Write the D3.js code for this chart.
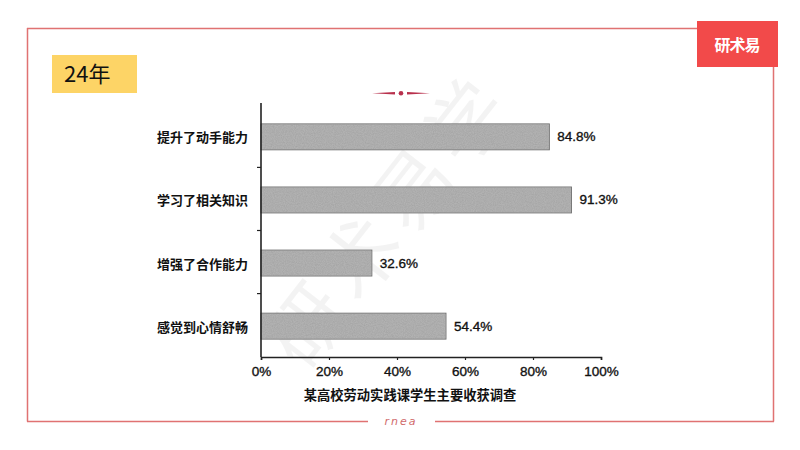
<!DOCTYPE html>
<html><head><meta charset="utf-8">
<script src="https://cdn.jsdelivr.net/npm/d3@7"></script>
<style>html,body{margin:0;padding:0;background:#fff;}svg{display:block;}</style>
</head><body>
<script>
const categories = ["提升了动手能力", "学习了相关知识", "增强了合作能力", "感觉到心情舒畅"];
const values = [84.8, 91.3, 32.6, 54.4];
const valueLabels = ["84.8%", "91.3%", "32.6%", "54.4%"];
const xTicks = [0, 20, 40, 60, 80, 100];
const xTickLabels = ["0%", "20%", "40%", "60%", "80%", "100%"];
const axisTitle = "某高校劳动实践课学生主要收获调查";
const yearLabel = "24年";
const logoText = "研术易";
const footerText = "rnea";

const W = 800, H = 450;
const svg = d3.select("body").append("svg").attr("width", W).attr("height", H);
svg.append("rect").attr("width", W).attr("height", H).attr("fill", "#fff");

const CJK = "'Noto Sans CJK SC','Noto Sans',sans-serif";
const LAT = "'Liberation Sans',Arial,sans-serif";

// watermark
svg.append("text").attr("transform", "translate(395,225) rotate(-52)")
  .attr("text-anchor", "middle").attr("dominant-baseline", "middle")
  .attr("font-family", "'Noto Sans CJK SC',serif").attr("font-size", 78)
  .attr("fill", "#000").attr("opacity", 0.045).attr("letter-spacing", 8)
  .text("研术易学");

// outer frame
const red = "#e07272";
svg.append("line").attr("x1", 27).attr("x2", 774).attr("y1", 28.5).attr("y2", 28.5).attr("stroke", red).attr("stroke-width", 1.5);
svg.append("line").attr("x1", 27.5).attr("x2", 27.5).attr("y1", 28).attr("y2", 421.5).attr("stroke", red).attr("stroke-width", 1.5);
svg.append("line").attr("x1", 773.5).attr("x2", 773.5).attr("y1", 28).attr("y2", 421.5).attr("stroke", red).attr("stroke-width", 1.5);
svg.append("line").attr("x1", 27).attr("x2", 368).attr("y1", 421.5).attr("y2", 421.5).attr("stroke", red).attr("stroke-width", 1.5);
svg.append("line").attr("x1", 435).attr("x2", 774).attr("y1", 421.5).attr("y2", 421.5).attr("stroke", red).attr("stroke-width", 1.5);
svg.append("text").attr("x", 401).attr("y", 425).attr("text-anchor", "middle")
  .attr("font-family", "'DejaVu Sans',sans-serif").attr("font-style", "italic").attr("font-size", 11)
  .attr("letter-spacing", 2).attr("fill", "#d06a6a").text(footerText);

// logo
svg.append("rect").attr("x", 697).attr("y", 21).attr("width", 81).attr("height", 46).attr("fill", "#f24a4a");
svg.append("text").attr("x", 737).attr("y", 51).attr("text-anchor", "middle")
  .attr("font-family", CJK).attr("font-weight", "bold").attr("font-size", 16)
  .attr("letter-spacing", -1).attr("fill", "#fff").text(logoText);

// year label
svg.append("rect").attr("x", 52).attr("y", 55).attr("width", 85).attr("height", 38).attr("fill", "#fdd466");
svg.append("text").attr("x", 64).attr("y", 82).attr("font-family", CJK).attr("font-size", 22)
  .attr("fill", "#111").text(yearLabel);

// decorative mark
const deco = svg.append("g").attr("fill", "#b8304c");
deco.append("path").attr("d", "M372,93.3 L395,92 L395,94.6 Z");
deco.append("path").attr("d", "M430,93.3 L407,92 L407,94.6 Z");
deco.append("circle").attr("cx", 401).attr("cy", 93.3).attr("r", 2.3);

// chart
const x = d3.scaleLinear().domain([0, 100]).range([261, 601]);
const y = d3.scaleBand().domain(categories).range([104, 357]).paddingInner(0.59).paddingOuter(0.3);

// texture filter
const defs = svg.append("defs");
const f = defs.append("filter").attr("id", "grain").attr("x", 0).attr("y", 0).attr("width", 1).attr("height", 1);
f.append("feTurbulence").attr("type", "fractalNoise").attr("baseFrequency", 0.9).attr("numOctaves", 2).attr("seed", 3).attr("result", "n");
f.append("feColorMatrix").attr("in", "n").attr("type", "matrix")
  .attr("values", "0 0 0 0 0  0 0 0 0 0  0 0 0 0 0  0 0 0 0.25 -0.06").attr("result", "a");
f.append("feComposite").attr("in", "a").attr("in2", "SourceGraphic").attr("operator", "atop");

const bars = svg.append("g");
bars.selectAll("rect.bar").data(categories).join("rect").attr("class", "bar")
  .attr("x", x(0)).attr("y", d => y(d) + 1)
  .attr("width", (d, i) => x(values[i]) - x(0)).attr("height", y.bandwidth())
  .attr("fill", "#b2b2b2").attr("stroke", "#707070").attr("stroke-width", 1);
bars.selectAll("rect.tex").data(categories).join("rect").attr("class", "tex")
  .attr("x", x(0) + 0.5).attr("y", d => y(d) + 1.5)
  .attr("width", (d, i) => x(values[i]) - x(0) - 1).attr("height", y.bandwidth() - 1)
  .attr("fill", "#b2b2b2").attr("filter", "url(#grain)");

// value labels
svg.append("g").selectAll("text").data(categories).join("text")
  .attr("x", (d, i) => x(values[i]) + 8).attr("y", d => y(d) + 1 + y.bandwidth() / 2)
  .attr("dominant-baseline", "central")
  .attr("font-family", LAT).attr("font-size", 13.5).attr("fill", "#111")
  .attr("stroke", "#111").attr("stroke-width", 0.35)
  .text((d, i) => valueLabels[i]);

// y axis
const yAxisG = svg.append("g");
yAxisG.append("line").attr("x1", 261).attr("x2", 261).attr("y1", 103).attr("y2", 357)
  .attr("stroke", "#222").attr("stroke-width", 1.6);
const bounds = categories.slice(1).map(c => y(c) - y.step() * y.paddingInner() / 2);
yAxisG.selectAll("line.tk").data(bounds).join("line").attr("class", "tk")
  .attr("x1", 257).attr("x2", 261).attr("y1", d => d).attr("y2", d => d)
  .attr("stroke", "#222").attr("stroke-width", 1.2);
yAxisG.selectAll("text").data(categories).join("text")
  .attr("x", 248).attr("y", d => y(d) + 1 + y.bandwidth() / 2).attr("dominant-baseline", "central")
  .attr("text-anchor", "end").attr("font-family", CJK).attr("font-weight", "bold")
  .attr("font-size", 13).attr("fill", "#111").text(d => d);

// x axis
const xAxis = d3.axisBottom(x).tickValues(xTicks).tickSize(3).tickPadding(6)
  .tickFormat((d, i) => xTickLabels[i]);
const xg = svg.append("g").attr("transform", "translate(0,357)").call(xAxis);
xg.select(".domain").attr("stroke", "#222").attr("stroke-width", 1.6);
xg.selectAll(".tick line").attr("stroke", "#222").attr("stroke-width", 1.2);
xg.selectAll(".tick text").attr("font-family", LAT).attr("font-size", 13.5).attr("fill", "#111")
  .attr("stroke", "#111").attr("stroke-width", 0.35);

svg.append("text").attr("x", 410).attr("y", 394).attr("dominant-baseline", "central")
  .attr("text-anchor", "middle").attr("font-family", CJK).attr("font-weight", "bold")
  .attr("font-size", 13.3).attr("fill", "#111").text(axisTitle);
</script>
</body></html>
